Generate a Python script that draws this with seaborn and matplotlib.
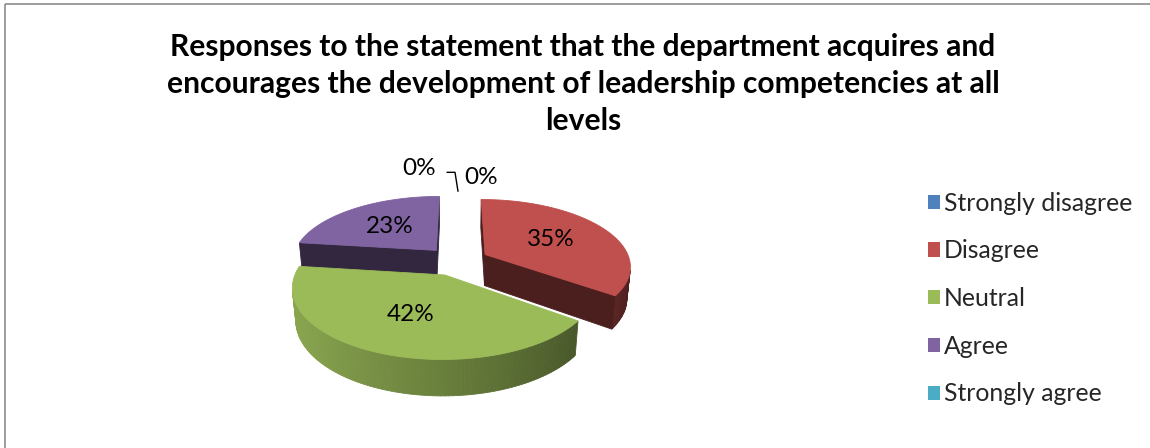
import numpy as np
import matplotlib
matplotlib.use("Agg")
import matplotlib.pyplot as plt
from matplotlib.patches import Polygon, Patch, Rectangle
import seaborn as sns

# ---- data ----
categories = ["Strongly disagree", "Disagree", "Neutral", "Agree", "Strongly agree"]
values = [0, 35, 42, 23, 0]
colors = ["#4F81BD", "#C0504D", "#9BBB59", "#8064A2", "#4BACC6"]
title = ("Responses to the statement that the department acquires and\n"
         "encourages the development of leadership competencies at all\n"
         "levels")

# ---- style ----
sns.set_theme(style="white")
plt.rcParams["font.family"] = ["Lato", "DejaVu Sans"]
palette = sns.color_palette(colors)

W, H = 1150, 448
fig = plt.figure(figsize=(W / 100, H / 100), dpi=100)
ax = fig.add_axes([0, 0, 1, 1])
ax.set_xlim(0, W)
ax.set_ylim(H, 0)
ax.axis("off")

# ---- 3-D pie geometry (pixels) ----
R = 145.0           # radius
ELEV = np.radians(27)
DIST = 800.0        # camera distance for perspective
CX, CY = 457.0, 261.0
THICK = 36.0
EXPLODE = 32.0
cam = DIST * np.array([0.0, -np.cos(ELEV), np.sin(ELEV)])


def project(x, y, z):
    x = np.asarray(x, float); y = np.asarray(y, float); z = np.asarray(z, float)
    depth = -y * np.cos(ELEV) + z * np.sin(ELEV)
    s = DIST / (DIST - depth)
    return CX + x * s, CY - (y * np.sin(ELEV) + z * np.cos(ELEV)) * s


def facing(normal, point):
    return np.dot(normal, cam - np.asarray(point)) > 0


def shade(rgb, f):
    return tuple(np.clip(np.array(rgb) * f, 0, 1))


def add_poly(xs, ys, color, z):
    ax.add_patch(Polygon(np.column_stack([xs, ys]), closed=True,
                         facecolor=color, edgecolor=color, lw=0.6, zorder=z))


total = float(sum(values))
spans = [v / total * 360.0 for v in values]
his = [90.0 - sum(spans[:i]) for i in range(len(values))]

# back-to-front drawing order
order = sorted([i for i, v in enumerate(values) if v > 0],
               key=lambda i: np.sin(np.radians(his[i] - spans[i] / 2)),
               reverse=True)

label_pos = {}
for rank, i in enumerate(order):
    hi = his[i]
    lo = hi - spans[i]
    mid = np.radians((hi + lo) / 2)
    ox, oy = EXPLODE * np.cos(mid), EXPLODE * np.sin(mid)
    base = palette[i]
    zb = 10 + rank * 10

    # outer wall, shaded along the arc (lit from the left)
    th = np.radians(np.linspace(lo, hi, 120))
    for a0, a1 in zip(th[:-1], th[1:]):
        am = (a0 + a1) / 2
        n = np.array([np.cos(am), np.sin(am), 0.0])
        p = np.array([ox + R * np.cos(am), oy + R * np.sin(am), -THICK / 2])
        if not facing(n, p):
            continue
        f = 0.40 + 0.50 * ((1 - np.cos(am)) / 2) ** 0.85
        wx = ox + R * np.cos([a0, a1, a1, a0])
        wy = oy + R * np.sin([a0, a1, a1, a0])
        wz = [0, 0, -THICK, -THICK]
        sx, sy = project(wx, wy, wz)
        add_poly(sx, sy, shade(base, f), zb)

    # radial cut faces
    for ang, sign in ((np.radians(hi), 1), (np.radians(lo), -1)):
        n = sign * np.array([-np.sin(ang), np.cos(ang), 0.0])
        p = np.array([ox + R / 2 * np.cos(ang), oy + R / 2 * np.sin(ang), -THICK / 2])
        if not facing(n, p):
            continue
        fx = [ox, ox + R * np.cos(ang), ox + R * np.cos(ang), ox]
        fy = [oy, oy + R * np.sin(ang), oy + R * np.sin(ang), oy]
        fz = [0, 0, -THICK, -THICK]
        sx, sy = project(fx, fy, fz)
        add_poly(sx, sy, shade(base, 0.39), zb + 1)

    # top face
    tx = np.concatenate([[ox], ox + R * np.cos(th)])
    ty = np.concatenate([[oy], oy + R * np.sin(th)])
    sx, sy = project(tx, ty, np.zeros_like(tx))
    add_poly(sx, sy, base, zb + 2)

    lx, ly = project(ox + 0.55 * R * np.cos(mid), oy + 0.55 * R * np.sin(mid), 0.0)
    label_pos[i] = (float(lx), float(ly))

LABEL_FS = 17.5
for i, (lx, ly) in label_pos.items():
    ax.text(lx, ly, f"{values[i]:.0f}%", ha="center", va="center",
            fontsize=LABEL_FS, color="black", zorder=100)

# zero-value slices sit at the top of the pie: labels outside with a leader
topx, topy = project(0.0, R, 0.0)
topx, topy = float(topx), float(topy)
zero = [i for i, v in enumerate(values) if v == 0]
ax.text(topx - 38, topy - 36, f"{values[zero[0]]:.0f}%", ha="center", va="center",
        fontsize=LABEL_FS, color="black", zorder=100)
ax.text(topx + 24, topy - 27, f"{values[zero[1]]:.0f}%", ha="center", va="center",
        fontsize=LABEL_FS, color="black", zorder=100)
ax.plot([topx - 10, topx - 2, topx + 1], [topy - 32, topy - 32, topy - 13],
        color="black", lw=1.0, zorder=100)

# title
fig.text(583 / W, 1 - 84 / H, title, ha="center", va="center",
         fontsize=21.6, fontweight="bold", color="black", linespacing=1.38)

# legend
handles = [Patch(facecolor=c, edgecolor="none") for c in palette]
leg = ax.legend(handles, categories, loc="center left",
                bbox_to_anchor=(928 / W, 1 - 298.5 / H), frameon=False,
                fontsize=17.8, handlelength=0.5, handleheight=0.5,
                handletextpad=0.15, labelspacing=1.0, borderpad=0,
                borderaxespad=0)

# chart border (top and left edges)
ax.add_patch(Rectangle((4.5, 4.5), W + 50, H + 50, fill=False,
                       edgecolor="#8C8C8C", lw=1.2, zorder=200))

fig.savefig("out.png", dpi=100)
